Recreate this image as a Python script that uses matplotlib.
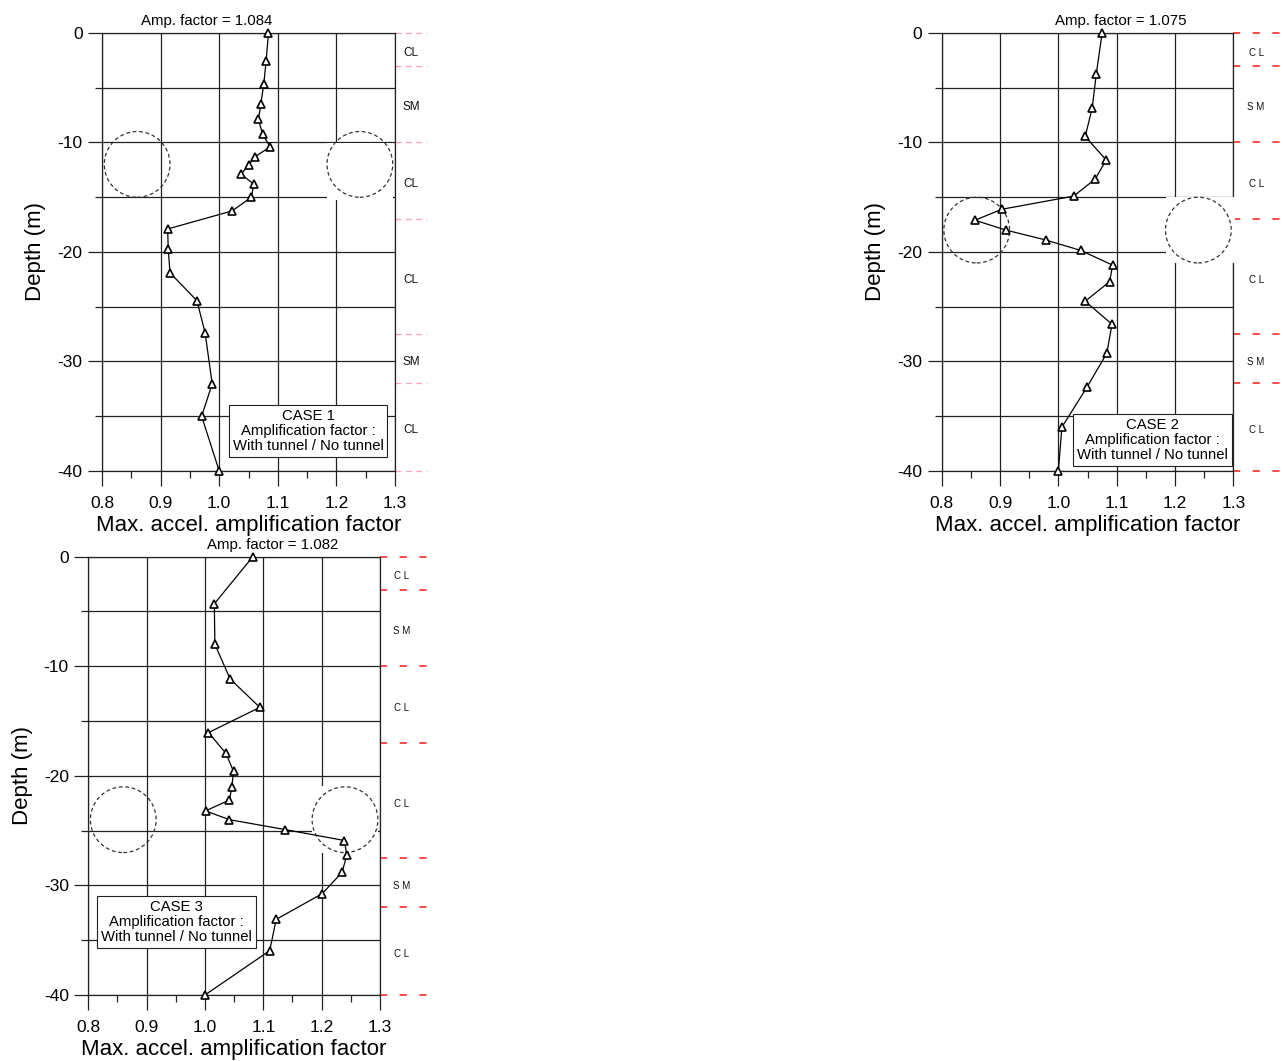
import matplotlib.pyplot as plt
from matplotlib.patches import Ellipse, Rectangle
from matplotlib.ticker import MultipleLocator

plt.rcParams['font.family'] = ['Liberation Sans', 'DejaVu Sans']

# soil profile (same for all cases)
boundaries = [0, -3, -10, -17, -27.5, -32, -40]
layer_names = ['CL', 'SM', 'CL', 'CL', 'SM', 'CL']

# tunnel position (lateral position on the plot, depth of centre, radius in m)
tunnel_x = [0.86, 1.24]
tunnel_depth = [-12, -18, -24]
tunnel_radius = 3.0

# CASE 1
case1_depth = [0, -2.6, -4.66, -6.5, -7.9, -9.25, -10.4, -11.3, -12.1, -12.9, -13.8,
               -15.0, -16.25, -17.9, -19.7, -21.9, -24.45, -27.4, -32.05, -35.0, -40]
case1_amp = [1.084, 1.080, 1.076, 1.071, 1.067, 1.074, 1.087, 1.061, 1.050, 1.037, 1.059,
             1.055, 1.022, 0.912, 0.913, 0.916, 0.962, 0.976, 0.988, 0.970, 1.000]

# CASE 2
case2_depth = [0, -3.75, -6.85, -9.45, -11.6, -13.35, -14.9, -16.1, -17.1, -18.0, -18.9,
               -19.85, -21.2, -22.7, -24.5, -26.6, -29.25, -32.35, -36.0, -40]
case2_amp = [1.075, 1.065, 1.058, 1.046, 1.082, 1.063, 1.026, 0.903, 0.857, 0.910, 0.978,
             1.038, 1.093, 1.088, 1.046, 1.092, 1.083, 1.049, 1.006, 1.000]

# CASE 3
case3_depth = [0, -4.3, -8.0, -11.15, -13.75, -16.05, -17.95, -19.6, -21.0, -22.2, -23.2,
               -24.0, -24.9, -25.9, -27.25, -28.8, -30.75, -33.1, -35.95, -40]
case3_amp = [1.082, 1.016, 1.017, 1.043, 1.094, 1.006, 1.036, 1.049, 1.046, 1.042, 1.001,
             1.042, 1.137, 1.239, 1.243, 1.235, 1.201, 1.122, 1.111, 1.000]

cases = ['CASE 1', 'CASE 2', 'CASE 3']
depths = [case1_depth, case2_depth, case3_depth]
amps = [case1_amp, case2_amp, case3_amp]

# per-panel layout
ax_rects = [[0.0795, 0.5561, 0.2284, 0.4128],
            [0.7340, 0.5561, 0.2273, 0.4128],
            [0.0688, 0.0622, 0.2274, 0.4131]]
title_x = [0.357, 0.615, 0.633]
box_xy = [(0.703, 0.0913), (0.723, 0.0713), (0.302, 0.166)]
mask_y = [(-15.25, -10.05), (-21.05, -14.95), (-27.05, -20.95)]
mask_over_spine = [False, True, False]
soil_x = [1.055, 1.078, 1.075]
soil_fs = [8.5, 7, 7]
spaced = [False, True, True]
dash_end = [1.109, 1.2, 1.195]
dash_color = ['#ff9ec8', '#ff2a2a', '#ff2a2a']
dash_style = [(0, (4.7, 3.6)), (0, (4.3, 7.5)), (0, (4.3, 7.5))]
dash_lw = [0.9, 1.2, 1.2]

fig = plt.figure(figsize=(12.83, 10.61), dpi=100)
fig_w, fig_h = fig.get_size_inches() * fig.dpi

for i in range(3):
    ax = fig.add_axes(ax_rects[i])
    ax.set_xlim(0.8, 1.3)
    ax.set_ylim(-40, 0)

    ax.xaxis.set_minor_locator(MultipleLocator(0.05))
    ax.yaxis.set_minor_locator(MultipleLocator(5))
    ax.set_xticks([0.8, 0.9, 1.0, 1.1, 1.2, 1.3])
    ax.set_xticklabels(['0.8', '0.9', '1.0', '1.1', '1.2', '1.3'])
    ax.set_yticks([0, -10, -20, -30, -40])
    ax.set_yticklabels(['0', '-10', '-20', '-30', '-40'])

    ax.tick_params(axis='x', which='major', direction='out', length=10.8, width=0.9,
                   pad=7, labelsize=12.5, color='#222222')
    ax.tick_params(axis='x', which='minor', direction='out', length=5.3, width=0.9,
                   color='#222222')
    ax.tick_params(axis='y', which='major', direction='out', length=10, width=0.9,
                   pad=4, labelsize=12.5, color='#222222')
    ax.tick_params(axis='y', which='minor', direction='out', length=5, width=0.9,
                   color='#222222')

    ax.grid(True, axis='x', which='major', color='#222222', lw=0.9)
    ax.grid(True, axis='y', which='both', color='#222222', lw=0.9)
    for sp in ax.spines.values():
        sp.set_linewidth(0.9)
        sp.set_color('#222222')

    # x half-width of the tunnel so it stays round on screen
    px_per_m = ax_rects[i][3] * fig_h / 40
    px_per_unit = ax_rects[i][2] * fig_w / 0.5
    rx = tunnel_radius * px_per_m / px_per_unit

    # blank out the grid behind the right-hand tunnel
    y0, y1 = mask_y[i]
    x0 = tunnel_x[1] - rx
    x1 = 1.302 if mask_over_spine[i] else 1.297
    ax.add_patch(Rectangle((x0, y0), x1 - x0, y1 - y0, facecolor='white', edgecolor='none',
                           zorder=2.6 if mask_over_spine[i] else 2.0, clip_on=False))

    for tx in tunnel_x:
        ax.add_patch(Ellipse((tx, tunnel_depth[i]), 2 * rx, 2 * tunnel_radius, fill=False,
                             edgecolor='#333333', lw=0.9, linestyle=(0, (3, 2.2)), zorder=3))

    ax.plot(amps[i], depths[i], color='black', lw=0.9, marker='^', ms=5.5,
            mfc='white', mec='black', mew=1.2, zorder=4, clip_on=False)

    ax.text(title_x[i], 1 + 11.5 / 438, f'Amp. factor = {amps[i][0]:.3f}',
            transform=ax.transAxes, ha='center', va='center', fontsize=10.8)

    ax.text(box_xy[i][0], box_xy[i][1],
            f'{cases[i]}\nAmplification factor :\nWith tunnel / No tunnel',
            transform=ax.transAxes, ha='center', va='center', fontsize=10.7,
            linespacing=1.1, zorder=5,
            bbox=dict(boxstyle='square,pad=0.25', facecolor='white', edgecolor='#222222', lw=0.8))

    # soil layers on the right
    ytr = ax.get_yaxis_transform()
    for b in boundaries:
        ax.plot([1.0, dash_end[i]], [b, b], transform=ytr, color=dash_color[i],
                lw=dash_lw[i], linestyle=dash_style[i], clip_on=False)
    for k, name in enumerate(layer_names):
        mid = (boundaries[k] + boundaries[k + 1]) / 2 - 0.3
        label = ' '.join(name) if spaced[i] else name
        ax.text(soil_x[i], mid, label, transform=ytr, ha='center', va='center',
                fontsize=soil_fs[i], color='#111111')

    ax.set_xlabel('Max. accel. amplification factor', fontsize=16, labelpad=3)
    ax.set_ylabel('Depth (m)', fontsize=16, labelpad=8)

fig.savefig('out.png', dpi=100)
